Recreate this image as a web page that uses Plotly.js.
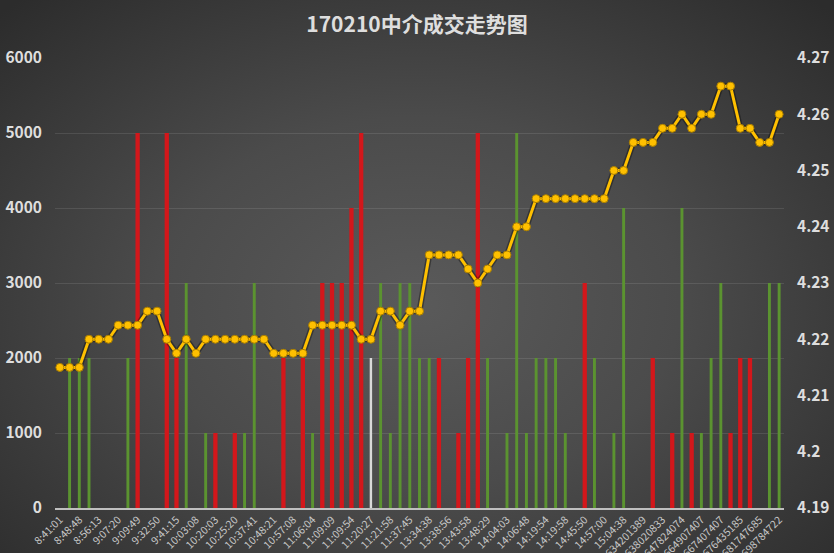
<!DOCTYPE html>
<html>
<head>
<meta charset="utf-8">
<script src="https://cdn.plot.ly/plotly-3.0.1.min.js"></script>
<style>
  html, body { margin: 0; padding: 0; }
  body {
    width: 834px; height: 553px; overflow: hidden;
    background: radial-gradient(ellipse 70% 75% at 50% 55%, #5a5a5a 0%, #4b4b4b 45%, #2c2c2c 100%);
  }
  #chart { width: 834px; height: 553px; }
</style>
</head>
<body>
<div id="chart"></div>
<script>
// tick labels, shown on every other trade
var tickLabels = ['8:41:01', '8:48:48', '8:56:13', '9:07:20', '9:09:49', '9:32:50', '9:41:15',
  '10:03:08', '10:20:03', '10:25:20', '10:37:41', '10:48:21', '10:57:08', '11:06:04',
  '11:09:09', '11:09:54', '11:20:27', '11:21:58', '11:37:45', '13:34:38', '13:38:56',
  '13:43:58', '13:48:29', '14:04:03', '14:06:48', '14:19:54', '14:19:58', '14:45:50',
  '14:57:00', '15:04:38', '0.634201389', '0.638020833', '0.647824074', '0.664907407',
  '0.667407407', '0.676435185', '0.681747685', '0.698784722'];

// traded volume per trade
var volume = [0, 2000, 2000, 2000, 0, 0, 0, 2000, 5000, 0,
  0, 5000, 2000, 3000, 0, 1000, 1000, 0, 1000, 1000,
  3000, 0, 0, 2000, 0, 2000, 1000, 3000, 3000, 3000,
  4000, 5000, 2000, 3000, 1000, 3000, 3000, 2000, 2000, 2000,
  0, 1000, 2000, 5000, 2000, 0, 1000, 5000, 1000, 2000,
  2000, 2000, 1000, 0, 3000, 2000, 0, 1000, 4000, 0,
  0, 2000, 0, 1000, 4000, 1000, 1000, 2000, 3000, 1000,
  2000, 2000, 0, 3000, 3000];

// B = buy (red), S = sell (green), N = neutral (white)
var side = ['', 'S', 'S', 'S', '', '', '', 'S', 'B', '',
  '', 'B', 'B', 'S', '', 'S', 'B', '', 'B', 'S',
  'S', '', '', 'B', '', 'B', 'S', 'B', 'B', 'B',
  'B', 'B', 'N', 'S', 'S', 'S', 'S', 'S', 'S', 'B',
  '', 'B', 'B', 'B', 'S', '', 'S', 'S', 'S', 'S',
  'S', 'S', 'S', '', 'B', 'S', '', 'S', 'S', '',
  '', 'B', '', 'B', 'S', 'B', 'S', 'S', 'S', 'B',
  'B', 'B', '', 'S', 'S'];

// trade price
var price = [4.215, 4.215, 4.215, 4.22, 4.22, 4.22, 4.2225, 4.2225, 4.2225, 4.225,
  4.225, 4.22, 4.2175, 4.22, 4.2175, 4.22, 4.22, 4.22, 4.22, 4.22,
  4.22, 4.22, 4.2175, 4.2175, 4.2175, 4.2175, 4.2225, 4.2225, 4.2225, 4.2225,
  4.2225, 4.22, 4.22, 4.225, 4.225, 4.2225, 4.225, 4.225, 4.235, 4.235,
  4.235, 4.235, 4.2325, 4.23, 4.2325, 4.235, 4.235, 4.24, 4.24, 4.245,
  4.245, 4.245, 4.245, 4.245, 4.245, 4.245, 4.245, 4.25, 4.25, 4.255,
  4.255, 4.255, 4.2575, 4.2575, 4.26, 4.2575, 4.26, 4.26, 4.265, 4.265,
  4.2575, 4.2575, 4.255, 4.255, 4.26];

var idx = price.map(function (p, i) { return i; });
var tickIdx = tickLabels.map(function (t, i) { return i * 2; });

function pick(s) {
  return volume.map(function (v, i) { return side[i] === s ? v : null; });
}

var data = [{
  type: 'bar', x: idx, y: pick('S'), width: 0.3,
  marker: { color: '#5b9330' }, name: '卖'
}, {
  type: 'bar', x: idx, y: pick('B'), width: 0.44,
  marker: { color: '#d3171b' }, name: '买'
}, {
  type: 'bar', x: idx, y: pick('N'), width: 0.25,
  marker: { color: '#d9d9d9' }, name: '中性'
}, {
  type: 'scatter', mode: 'lines', x: idx, y: price, yaxis: 'y2',
  line: { color: 'rgba(0,0,0,0.35)', width: 6 }, hoverinfo: 'skip'
}, {
  type: 'scatter', mode: 'lines+markers', x: idx, y: price, yaxis: 'y2',
  line: { color: '#ffc000', width: 3 },
  marker: { color: '#ffc000', size: 8, line: { color: '#a87d00', width: 1 } },
  name: '成交价'
}];

var tickFont = { family: 'Noto Sans CJK SC', size: 15.5, color: '#dedede', weight: 'bold' };

var layout = {
  width: 834,
  height: 553,
  margin: { l: 55, r: 50, t: 58, b: 45 },
  paper_bgcolor: 'rgba(0,0,0,0)',
  plot_bgcolor: 'rgba(0,0,0,0)',
  showlegend: false,
  barmode: 'overlay',
  font: { family: 'Noto Sans CJK SC', color: '#d9d9d9' },
  title: {
    text: '170210中介成交走势图',
    font: { family: 'Noto Sans CJK SC', size: 21, color: '#dedede', weight: 'bold' },
    x: 0.5, xanchor: 'center', yref: 'container', y: 0.955, yanchor: 'middle'
  },
  xaxis: {
    range: [-0.5, 74.5],
    tickmode: 'array',
    tickvals: tickIdx,
    ticktext: tickLabels,
    tickangle: -45,
    tickfont: { family: 'Noto Sans CJK SC', size: 10.5, color: '#c8c8c8' },
    showgrid: false,
    zeroline: false,
    showline: true,
    linecolor: '#bfbfbf',
    linewidth: 1.5,
    ticks: '',
    automargin: false
  },
  yaxis: {
    range: [0, 6000],
    dtick: 1000,
    tickfont: tickFont,
    gridcolor: 'rgba(255,255,255,0.1)',
    gridwidth: 1,
    zeroline: false,
    ticks: '',
    ticklabelstandoff: 12,
    automargin: false
  },
  yaxis2: {
    overlaying: 'y',
    side: 'right',
    range: [4.19, 4.27],
    dtick: 0.01,
    tickfont: tickFont,
    showgrid: false,
    zeroline: false,
    ticks: '',
    ticklabelstandoff: 12,
    automargin: false
  }
};

Plotly.newPlot('chart', data, layout, { displayModeBar: false, staticPlot: true });
</script>
</body>
</html>
